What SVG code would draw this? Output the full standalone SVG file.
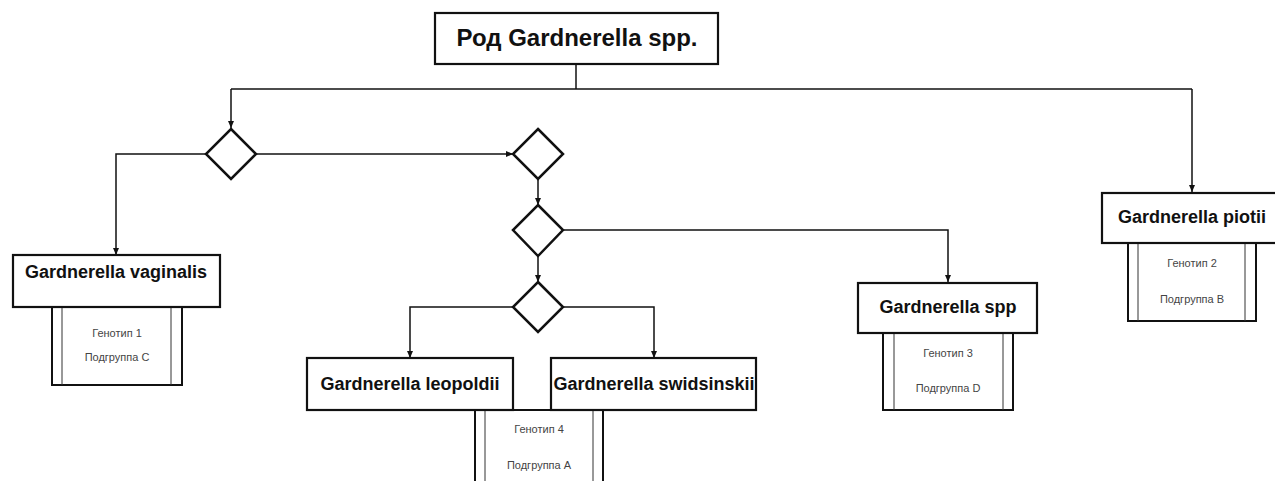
<svg xmlns="http://www.w3.org/2000/svg" width="1275" height="481" viewBox="0 0 1275 481">
<style>
.box{fill:#fff;stroke:#111;stroke-width:2.2}
.sub{fill:#fff;stroke:#111;stroke-width:2}
.inner{stroke:#333;stroke-width:1}
.dia{fill:#fff;stroke:#111;stroke-width:2.5;stroke-linejoin:miter}
.ttl{font-family:"Liberation Sans",Arial,sans-serif;font-weight:bold;fill:#111;text-anchor:middle}
.sm{font-family:"Liberation Sans",Arial,sans-serif;font-size:11px;fill:#444;text-anchor:middle}
.con{fill:none;stroke:#111;stroke-width:1.5}
</style>
<defs>
<marker id="arr" markerWidth="8" markerHeight="8" refX="7" refY="4" orient="auto" markerUnits="userSpaceOnUse">
<path d="M0,1 L7,4 L0,7 Z" fill="#111"/>
</marker>
</defs>
<rect width="1275" height="481" fill="#fff"/>
<g id="connectors">
<path class="con" d="M576,64 V89"/>
<path class="con" d="M231,89 H1192"/>
<path class="con" d="M231,89 V128" marker-end="url(#arr)"/>
<path class="con" d="M1192,89 V192" marker-end="url(#arr)"/>
<path class="con" d="M206,154 H116 V255" marker-end="url(#arr)"/>
<path class="con" d="M257,154 H513" marker-end="url(#arr)"/>
<path class="con" d="M538,179 V205" marker-end="url(#arr)"/>
<path class="con" d="M564,230 H948 V282" marker-end="url(#arr)"/>
<path class="con" d="M538,256 V282" marker-end="url(#arr)"/>
<path class="con" d="M513,307 H410 V358" marker-end="url(#arr)"/>
<path class="con" d="M564,307 H654 V358" marker-end="url(#arr)"/>
</g>
<g id="root">
<rect class="box" x="435" y="13" width="283" height="51"/>
<text class="ttl" x="577" y="46" font-size="24">Род Gardnerella spp.</text>
</g>
<g id="d1"><path class="dia" d="M231,129 L256,154 L231,179 L206,154 Z"/></g>
<g id="d2"><path class="dia" d="M538,129 L563,154 L538,179 L513,154 Z"/></g>
<g id="d3"><path class="dia" d="M538,205 L563,230 L538,256 L513,230 Z"/></g>
<g id="d4"><path class="dia" d="M538,282 L563,307 L538,332 L513,307 Z"/></g>
<g id="vaginalis">
<rect class="sub" x="52" y="307" width="130" height="78"/>
<line class="inner" x1="62" y1="307" x2="62" y2="385"/>
<line class="inner" x1="171" y1="307" x2="171" y2="385"/>
<rect class="box" x="13" y="255" width="207" height="52"/>
<text class="ttl" x="116" y="278" font-size="18">Gardnerella vaginalis</text>
<text class="sm" x="117" y="337">Генотип 1</text>
<text class="sm" x="117" y="361">Подгруппа С</text>
</g>
<g id="sub4">
<rect class="sub" x="475" y="410" width="128" height="85"/>
<line class="inner" x1="485" y1="410" x2="485" y2="495"/>
<line class="inner" x1="593" y1="410" x2="593" y2="495"/>
<text class="sm" x="539" y="433">Генотип 4</text>
<text class="sm" x="539" y="469">Подгруппа А</text>
</g>
<g id="leopoldii">
<rect class="box" x="307" y="358" width="206" height="52"/>
<text class="ttl" x="410" y="390" font-size="18">Gardnerella leopoldii</text>
</g>
<g id="swidsinskii">
<rect class="box" x="551" y="358" width="205" height="52"/>
<text class="ttl" x="654" y="390" font-size="18">Gardnerella swidsinskii</text>
</g>
<g id="spp">
<rect class="sub" x="883" y="333" width="130" height="77"/>
<line class="inner" x1="894" y1="333" x2="894" y2="410"/>
<line class="inner" x1="1003" y1="333" x2="1003" y2="410"/>
<rect class="box" x="858" y="283" width="179" height="50"/>
<text class="ttl" x="948" y="313" font-size="18">Gardnerella spp</text>
<text class="sm" x="948" y="357">Генотип 3</text>
<text class="sm" x="948" y="392">Подгруппа D</text>
</g>
<g id="piotii">
<rect class="sub" x="1128" y="243" width="128" height="78"/>
<line class="inner" x1="1138" y1="243" x2="1138" y2="321"/>
<line class="inner" x1="1245" y1="243" x2="1245" y2="321"/>
<rect class="box" x="1102" y="193" width="180" height="50"/>
<text class="ttl" x="1192" y="223" font-size="18">Gardnerella piotii</text>
<text class="sm" x="1192" y="267">Генотип 2</text>
<text class="sm" x="1192" y="303">Подгруппа В</text>
</g>
</svg>
